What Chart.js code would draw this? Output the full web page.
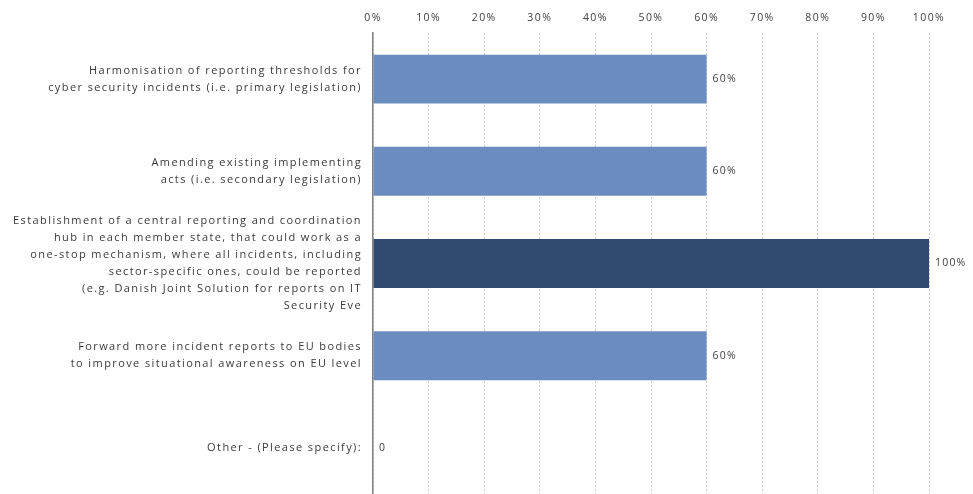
<!DOCTYPE html>
<html>
<head>
<meta charset="utf-8">
<script src="https://cdn.jsdelivr.net/npm/chart.js@4"></script>
<style>
  html, body { margin: 0; padding: 0; background: #fff; }
  #wrap { width: 973px; height: 494px; }
</style>
</head>
<body>
<div id="wrap"><canvas id="c" width="973" height="494"></canvas></div>
<script>
// categories (multi-line labels), values in percent
const categories = [
  ['Harmonisation of reporting thresholds for', 'cyber security incidents (i.e. primary legislation)'],
  ['Amending existing implementing', 'acts (i.e. secondary legislation)'],
  ['Establishment of a central reporting and coordination', 'hub in each member state, that could work as a',
   'one-stop mechanism, where all incidents, including', 'sector-specific ones, could be reported',
   '(e.g. Danish Joint Solution for reports on IT', 'Security Eve'],
  ['Forward more incident reports to EU bodies', 'to improve situational awareness on EU level'],
  ['Other - (Please specify):'],
];
const values = [60, 60, 100, 60, 0];
const valueLabels = ['60%', '60%', '100%', '60%', '0'];
const barColors = ['#6b8cbe', '#6b8cbe', '#2f4a6e', '#6b8cbe', '#6b8cbe'];
const tickValues = [0, 10, 20, 30, 40, 50, 60, 70, 80, 90, 100];

const FONT = '"Open Sans", "DejaVu Sans", sans-serif';
const SPACING = '1.4px';

// wide letter spacing, like the source picture's text
const spacingPlugin = {
  id: 'spacing',
  beforeDraw(chart) { chart.ctx.letterSpacing = SPACING; },
};

// draws the value text just past the end of each bar
const valueLabelPlugin = {
  id: 'valueLabels',
  afterDatasetsDraw(chart) {
    const ctx = chart.ctx;
    const meta = chart.getDatasetMeta(0);
    ctx.save();
    ctx.font = '10.5px ' + FONT;
    ctx.letterSpacing = '1.2px';
    ctx.fillStyle = '#404040';
    ctx.textBaseline = 'middle';
    ctx.textAlign = 'left';
    meta.data.forEach((bar, i) => {
      ctx.fillText(valueLabels[i], bar.x + 6, bar.y);
    });
    ctx.restore();
  }
};

new Chart(document.getElementById('c'), {
  type: 'bar',
  data: {
    labels: categories,
    datasets: [{
      data: values,
      backgroundColor: barColors,
      borderWidth: 0,
      barPercentage: 0.53,
      categoryPercentage: 1,
    }],
  },
  options: {
    indexAxis: 'y',
    responsive: false,
    animation: false,
    layout: { padding: { top: 0, right: 44, bottom: 0, left: 0 } },
    plugins: { legend: { display: false }, tooltip: { enabled: false } },
    scales: {
      x: {
        position: 'top',
        min: 0,
        max: 100,
        afterBuildTicks(scale) { scale.ticks = tickValues.map(v => ({ value: v })); },
        afterFit(scale) { scale.height = 33; scale.paddingLeft = 0; scale.paddingRight = 0; },
        ticks: {
          color: '#404040',
          font: { family: FONT, size: 10.5 },
          padding: 9,
          maxRotation: 0,
          callback: v => v + '%',
        },
        grid: {
          color: '#d0d0d0',
          lineWidth: 1,
          drawTicks: false,
        },
        border: { display: false, dash: [2, 2] },
      },
      y: {
        afterFit(scale) { scale.width = 373; scale.paddingTop = 0; scale.paddingBottom = 0; },
        ticks: {
          color: '#3a3a3a',
          font: { family: FONT, size: 11, lineHeight: 1.55 },
          padding: 11,
          autoSkip: false,
        },
        grid: { display: false, drawTicks: false },
        border: { display: true, color: '#808080', width: 1.5 },
      },
    },
  },
  plugins: [spacingPlugin, valueLabelPlugin],
});
</script>
</body>
</html>
